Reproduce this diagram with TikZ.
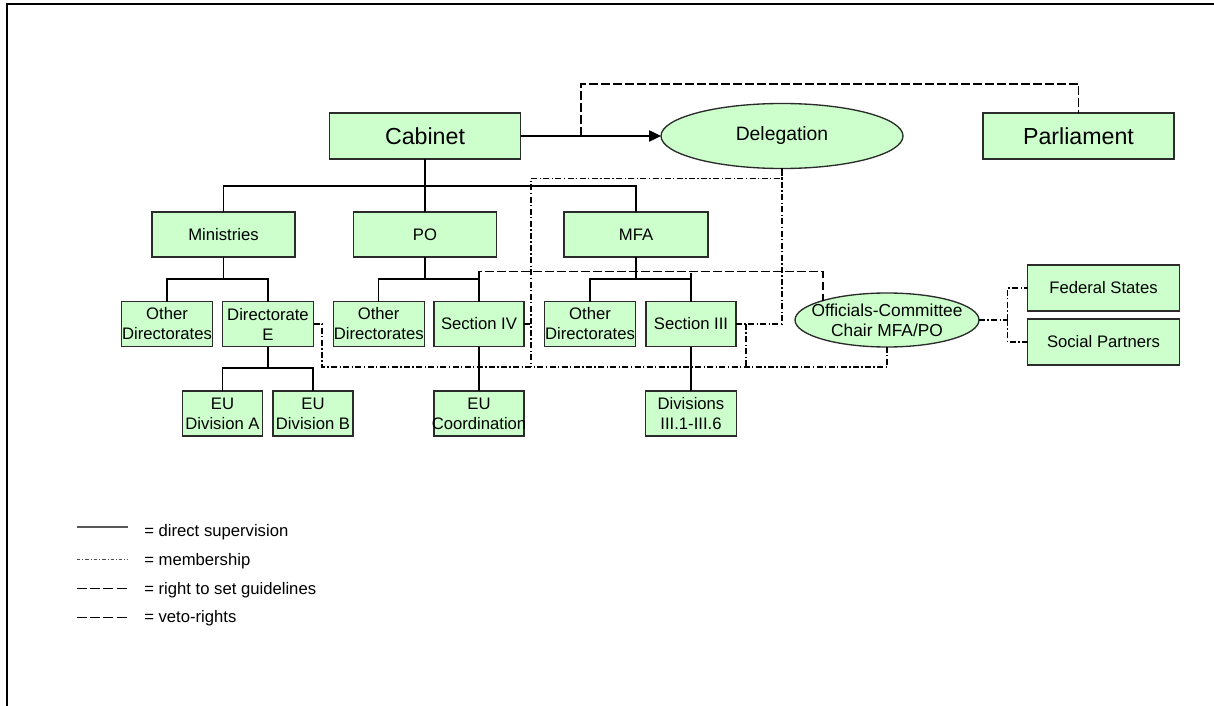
\documentclass[tikz,border=0pt]{standalone}
\usepackage{fontspec}
\setmainfont{Liberation Sans}
\usetikzlibrary{shapes.geometric,arrows.meta}
\definecolor{boxfill}{HTML}{CCFFCC}
\definecolor{edgegray}{HTML}{2B2B2B}
% zero-width, centred line (lets long words overhang a box or ellipse)
\newcommand{\zl}[1]{\makebox[0pt]{#1}}
\begin{document}
\begin{tikzpicture}[x=0.75pt,y=-0.75pt,
  orgbase/.style={draw=edgegray, fill=boxfill, line width=1pt, inner sep=0pt, outer sep=0pt,
                  align=center, font=\fontsize{12.5}{15}\selectfont},
  orgbox/.style n args={2}{orgbase, rectangle, minimum width=#1*0.75pt, minimum height=#2*0.75pt},
  ovalnode/.style n args={2}{orgbase, ellipse, minimum width=#1*0.75pt, minimum height=#2*0.75pt},
  bigtext/.style={font=\fontsize{17.4}{20}\selectfont},
  supervise/.style={draw=black, line width=1pt},
  member/.style={draw=black, line width=0.8pt, dash pattern=on 4.5pt off 1.8pt on 1pt off 1.8pt},
  guide/.style={draw=black, line width=0.8pt, dash pattern=on 6.5pt off 2.5pt},
  legendtext/.style={inner sep=0pt, anchor=west, font=\fontsize{12.5}{15}\selectfont},
]
\useasboundingbox (0,0) rectangle (1214,706);

% page frame (top and left edges)
\draw[line width=1.5pt] (7,706) -- (7,4) -- (1214,4);

% top level
\node[orgbox={191}{46}, bigtext] (cabinet) at (425,136) {Cabinet};
\node[orgbox={191}{46}, bigtext] (parliament) at (1078.5,136) {Parliament};
\node[ovalnode={242}{65}, font=\fontsize{14.5}{17}\selectfont] (delegation) at (782,136)
  {\zl{\raisebox{-1.5pt}{Delegation}}};

% ministries level
\node[orgbox={143}{45}] (ministries) at (223.5,234.5) {Ministries};
\node[orgbox={143}{45}] (po) at (425,234.5) {PO};
\node[orgbox={144}{45}] (mfa) at (636,234.5) {MFA};

% directorates / sections
\node[orgbox={91}{45}] (od1) at (167,324) {Other\\Directorates};
\node[orgbox={91}{45}] (dire) at (268,324) {Directorate\\E};
\node[orgbox={91}{45}] (od2) at (378.7,324) {Other\\Directorates};
\node[orgbox={90}{45}] (sec4) at (479,324) {Section IV};
\node[orgbox={91}{45}] (od3) at (590,324) {Other\\Directorates};
\node[orgbox={90}{45}] (sec3) at (691,324) {Section III};

% divisions
\node[orgbox={80}{45}] (euA) at (222.5,413.5) {EU\\Division A};
\node[orgbox={80}{45}] (euB) at (313,413.5) {EU\\Division B};
\node[orgbox={90}{45}] (eucoord) at (479,413.5) {EU\\\zl{Coordination}};
\node[orgbox={91}{45}] (divs) at (691,413.5) {Divisions\\III.1-III.6};

% committee and outside partners
\node[ovalnode={184}{54}, font=\fontsize{13}{15}\selectfont] (officials) at (887,320)
  {\zl{Officials-Committee}\\\zl{Chair MFA/PO}};
\node[orgbox={152}{46}] (fed) at (1103.5,288) {Federal States};
\node[orgbox={152}{46}] (soc) at (1103.5,342) {Social Partners};

% direct supervision
\draw[supervise] (cabinet.south) -- (po.north);
\draw[supervise] (ministries.north) -- ++(0,-26) -| (mfa.north);
\draw[supervise] (ministries.south) -- ++(0,22);
\draw[supervise] (od1.north) -- ++(0,-22.5) -| (dire.north);
\draw[supervise] (po.south) -- ++(0,22);
\draw[supervise] (od2.north) -- ++(0,-22.5) -| (sec4.north);
\draw[supervise] (mfa.south) -- ++(0,22);
\draw[supervise] (od3.north) -- ++(0,-22.5) -| (sec3.north);
\draw[supervise] (dire.south) -- ++(0,21.5);
\draw[supervise] (euA.north) -- ++(0,-23) -| (euB.north);
\draw[supervise] (sec4.south) -- (eucoord.north);
\draw[supervise] (sec3.south) -- (divs.north);
\draw[supervise, -{Triangle[length=9pt,width=8.5pt]}] (cabinet.east) -- (delegation.west);

% guidelines / veto rights
\coordinate (vetoroot) at (581,136);
\draw[guide] (vetoroot) -- ++(0,-52) -| (parliament.north);
\coordinate (offnw) at (823,300.6);
\draw[guide] (sec4.north) -- ++(0,-30) -| (offnw);
\draw[guide] (sec3.north) -- ++(0,-29);

% membership
\coordinate (memjoin) at (531,367);
\draw[member] (sec3.east) -| (delegation.south);
\draw[member] (delegation.south) -- ++(0,10) -| (memjoin);
\draw[member] (sec4.east) -- (sec4.east -| memjoin);
\draw[member] (dire.east) -- ++(8.5,0) -- ++(0,43) -| (officials.south);
\draw[member] (sec3.east) ++(10,0) -- ++(0,43);
\draw[member] (officials.east) -- ++(28.7,0) coordinate (fork);
\draw[member] (fork) |- (fed.west);
\draw[member] (fork) |- (soc.west);

% legend
\coordinate (la1) at (77,527);  \coordinate (lb1) at (128,527);
\coordinate (la2) at (77,559);  \coordinate (lb2) at (128,559);
\coordinate (la3) at (77,588);  \coordinate (lb3) at (128,588);
\coordinate (la4) at (77,617);  \coordinate (lb4) at (128,617);
\draw[draw=black!65, line width=0.8pt] (la1) -- (lb1);
\draw[draw=black!70, line width=0.6pt, dash pattern=on 2.5pt off 1.5pt on 0.8pt off 1.5pt] (la2) -- (lb2);
\draw[draw=black, line width=0.7pt, dash pattern=on 7.5pt off 2.4pt] (la3) -- (lb3);
\draw[draw=black, line width=0.7pt, dash pattern=on 7.5pt off 2.4pt] (la4) -- (lb4);
\node[legendtext] (lt1) at (144,532) {= direct supervision};
\node[legendtext] (lt2) at (144,561) {= membership};
\node[legendtext] (lt3) at (144,590) {= right to set guidelines};
\node[legendtext] (lt4) at (144,618) {= veto-rights};
\end{tikzpicture}
\end{document}
